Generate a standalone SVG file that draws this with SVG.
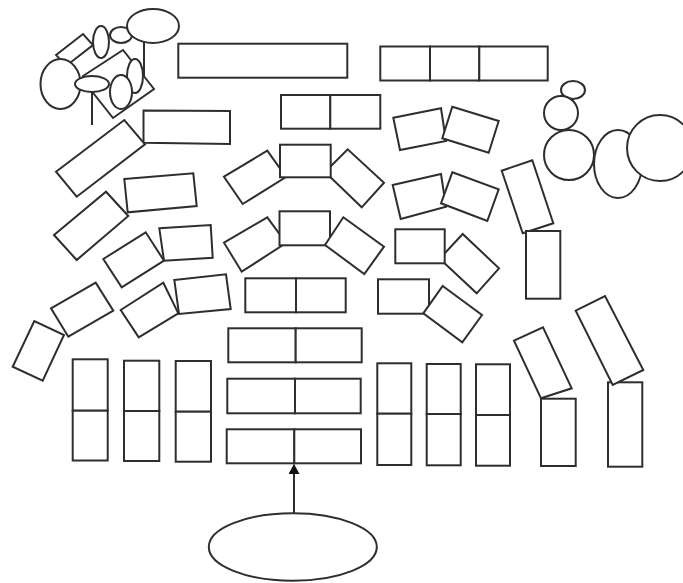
<svg xmlns="http://www.w3.org/2000/svg" width="683" height="583" viewBox="0 0 683 583">
<style>
rect,polygon,ellipse,line,path{fill:#fff;stroke:#2e2e2e;stroke-width:2}
line{fill:none}
</style>
<defs><marker id="a" markerWidth="12" markerHeight="12" refX="9" refY="5.500" orient="auto" markerUnits="userSpaceOnUse"><path d="M0,0L10,5.500L0,11Z" style="fill:#111;stroke:none"/></marker></defs>
<rect width="683" height="583" style="fill:#fff;stroke:none"/>
<g id="drums">
<polygon points="56,55 83,34 93,45 66,66"/>
<ellipse cx="60.500" cy="84" rx="20" ry="25"/>
<line x1="144" y1="40" x2="144" y2="80"/>
<polygon points="83,76 123,50 154,89 113,118 94,94"/>
<ellipse cx="101" cy="42" rx="8" ry="16"/>
<ellipse cx="121" cy="35" rx="11" ry="8"/>
<ellipse cx="153" cy="26" rx="26" ry="17"/>
<ellipse cx="135" cy="76" rx="8" ry="17"/>
<ellipse cx="121" cy="92" rx="11" ry="17"/>
<line x1="92" y1="92" x2="92" y2="125"/>
<ellipse cx="92" cy="84" rx="17" ry="8"/>
</g>
<g id="circles">
<ellipse cx="573" cy="90" rx="12" ry="9"/>
<ellipse cx="561" cy="113" rx="17" ry="17"/>
<ellipse cx="569" cy="155" rx="25" ry="25"/>
<ellipse cx="618" cy="164" rx="24" ry="34"/>
<ellipse cx="660" cy="148" rx="33" ry="33"/>
</g>
<g id="top-rows">
<rect x="178.300" y="43.700" width="169" height="34"/>
<rect x="380.300" y="46.500" width="49.700" height="34"/><rect x="430" y="46.500" width="49.300" height="34"/><rect x="479.300" y="46.500" width="68.400" height="34"/>
<rect x="281" y="95" width="49.300" height="33.700"/><rect x="330.300" y="95" width="50" height="33.700"/>
<polygon points="143.500,110.500 230,111 230,144 143.500,142.700"/>
<polygon points="56,171.700 124.300,120 145,144.300 76.700,196.700"/>
<polygon points="393.300,117.700 441,108.300 446,141 400,150"/>
<polygon points="452.300,106.700 498.700,121 488.700,152.700 442.300,138.300"/>
</g>
<g id="middle-rows">
<polygon points="124.300,179 193.300,173.300 196.700,206 127.700,212.300"/>
<polygon points="54,235 106,191.700 128.300,216 76.700,260"/>
<polygon points="224,176.700 267.300,150.700 286,177 242.700,204"/>
<polygon points="325,172 347.700,149.300 384,182.700 361.700,207.300"/>
<rect x="280" y="144.700" width="50.700" height="32.600"/>
<polygon points="392.700,185 441,174 446,206.700 400.700,219"/>
<polygon points="452.300,172.300 498.700,189.300 487.300,221 441,203.300"/>
<polygon points="501.700,170.700 532.300,160.300 553.300,223.300 522.700,233.300"/>
<rect x="526" y="231" width="34.300" height="67.700"/>
<polygon points="159.300,228.300 210.700,225 212.700,257.700 164,260.700"/>
<polygon points="103.300,259 145.700,232.300 164,260.700 121.700,287.300"/>
<polygon points="224,242.700 267.300,217.300 286,243 241.700,271.700"/>
<rect x="279.500" y="211.300" width="50.500" height="34"/>
<polygon points="343.300,217.300 384,246.700 364.300,274 325,245"/>
<polygon points="439.700,258.700 462.700,234 499,268.300 476.700,293.300"/>
<rect x="395.300" y="229.300" width="49.400" height="34"/>
<polygon points="174.300,280 226,274.300 230.700,309 179,314"/>
<polygon points="51,308.300 95.700,282.700 113.300,310.700 68.300,336.700"/>
<polygon points="120.700,310 163.300,282.700 178.300,313.300 138.700,337.300"/>
<rect x="245.300" y="278.300" width="50.700" height="34"/><rect x="296" y="278.300" width="49.700" height="34"/>
<rect x="378" y="279.300" width="51" height="34.400"/>
<polygon points="442.700,286 482,315 462.300,342.300 423.300,313.300"/>
</g>
<g id="bottom-rows">
<polygon points="12.700,366.700 34.300,321 64,335 42.700,380.700"/>
<rect x="72.700" y="359.300" width="35" height="51.400"/><rect x="72.700" y="410.700" width="35" height="49.800"/>
<rect x="124" y="360.700" width="35.300" height="50.300"/><rect x="124" y="411" width="35.300" height="50"/>
<rect x="175.700" y="361" width="35.300" height="50.700"/><rect x="175.700" y="411.700" width="35.300" height="50"/>
<rect x="228.300" y="328.300" width="67.400" height="34"/><rect x="295.700" y="328.300" width="66" height="34"/>
<rect x="227.300" y="378.700" width="67.700" height="34.600"/><rect x="295" y="378.700" width="65.700" height="34.600"/>
<rect x="226.700" y="429.300" width="67.600" height="34"/><rect x="294.300" y="429.300" width="66.700" height="34"/>
<rect x="377.300" y="363.300" width="34" height="50.400"/><rect x="377.300" y="413.700" width="34" height="51.300"/>
<rect x="426.700" y="364" width="34" height="50"/><rect x="426.700" y="414" width="34" height="51.300"/>
<rect x="476" y="364.300" width="34" height="50.700"/><rect x="476" y="415" width="34" height="50.700"/>
<rect x="541" y="398.700" width="34.700" height="67.300"/>
<polygon points="514,340.700 543,327.300 571.700,388.300 541,398.300"/>
<rect x="608" y="382.300" width="34.300" height="84.400"/>
<polygon points="575.700,310.700 605,296 643.300,370 612.700,385"/>
</g>
<g id="base">
<ellipse cx="292.800" cy="547" rx="84" ry="33.700"/>
</g>
<g id="connectors">
<line x1="294" y1="513" x2="294" y2="465" marker-end="url(#a)"/>
</g>
</svg>
